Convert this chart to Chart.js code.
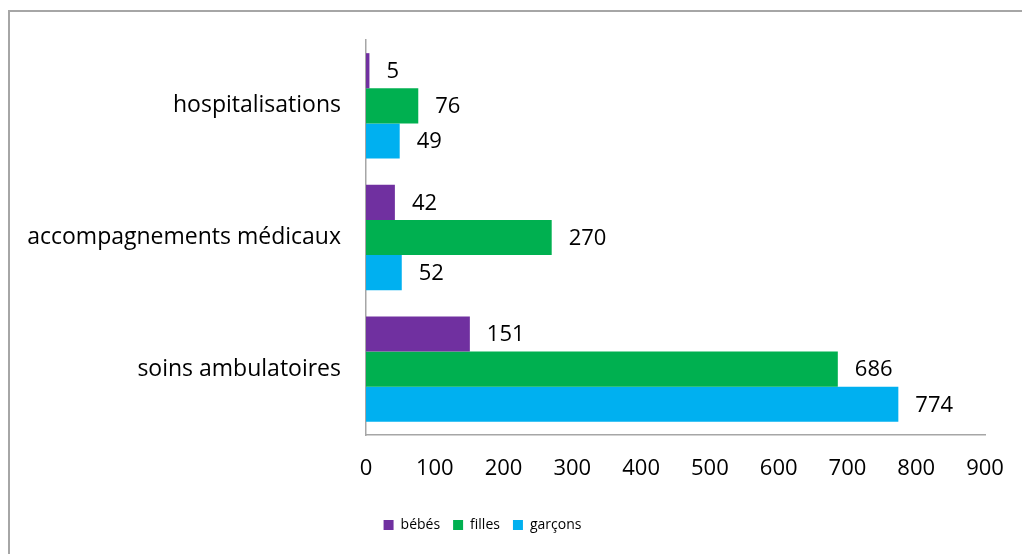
<!DOCTYPE html>
<html>
<head>
<meta charset="utf-8">
<script src="https://cdn.jsdelivr.net/npm/chart.js@4.4.1/dist/chart.umd.min.js"></script>
<style>
  html, body { margin: 0; padding: 0; background: #ffffff; }
  #wrap { position: relative; width: 1022px; height: 554px; }
</style>
</head>
<body>
<div id="wrap"><canvas id="c" width="1022" height="554"></canvas></div>
<script>
const categories = ['hospitalisations', 'accompagnements médicaux', 'soins ambulatoires'];
const seriesNames = ['bébés', 'filles', 'garçons'];
const bebes = [5, 42, 151];
const filles = [76, 270, 686];
const garcons = [49, 52, 774];
const xTicks = [0, 100, 200, 300, 400, 500, 600, 700, 800, 900];
const colors = ['#7030A0', '#00B050', '#00B0F0'];

const FONT = '"Open Sans", "Noto Sans", sans-serif';
const NUM_SIZE = 22;
const CAT_SIZE = 23;

const frame = {
  id: 'frame',
  beforeDraw(chart) {
    const ctx = chart.ctx;
    ctx.save();
    ctx.fillStyle = '#ffffff';
    ctx.fillRect(0, 0, chart.width, chart.height);
    ctx.fillStyle = '#a6a6a6';
    ctx.fillRect(8, 10, chart.width, 2);
    ctx.fillRect(8, 10, 2, chart.height);
    ctx.restore();
  }
};

const valueLabels = {
  id: 'valueLabels',
  afterDatasetsDraw(chart) {
    const ctx = chart.ctx;
    ctx.save();
    ctx.font = NUM_SIZE + 'px ' + FONT;
    ctx.fillStyle = '#000000';
    ctx.textAlign = 'left';
    ctx.textBaseline = 'middle';
    chart.data.datasets.forEach((ds, i) => {
      const meta = chart.getDatasetMeta(i);
      meta.data.forEach((el, j) => {
        ctx.fillText(String(ds.data[j]), el.x + 17, el.y + 1);
      });
    });
    ctx.restore();
  }
};

const SHIFT = 15;
const legendShift = {
  id: 'legendShift',
  afterLayout(chart) {
    if (chart.legend) {
      chart.legend.left -= SHIFT;
      chart.legend.right -= SHIFT;
      if (chart.legend.legendHitBoxes) {
        chart.legend.legendHitBoxes.forEach(b => { b.left -= SHIFT; });
      }
    }
  }
};

new Chart(document.getElementById('c'), {
  type: 'bar',
  data: {
    labels: categories,
    datasets: [
      { label: seriesNames[0], data: bebes, backgroundColor: colors[0] },
      { label: seriesNames[1], data: filles, backgroundColor: colors[1] },
      { label: seriesNames[2], data: garcons, backgroundColor: colors[2] }
    ]
  },
  options: {
    indexAxis: 'y',
    responsive: false,
    animation: false,
    devicePixelRatio: 1,
    categoryPercentage: 0.8,
    barPercentage: 1.0,
    layout: { padding: { left: 10, top: 40, right: 37, bottom: 12 } },
    scales: {
      x: {
        min: 0,
        max: 900,
        afterBuildTicks(scale) { scale.ticks = xTicks.map(v => ({ value: v })); },
        grid: { display: false, drawTicks: false },
        border: { display: true, color: '#a6a6a6', width: 1.5 },
        ticks: {
          color: '#000000',
          font: { family: FONT, size: NUM_SIZE },
          padding: 21,
          maxRotation: 0
        },
        afterFit(scale) {
          scale.height = 70;
          scale.paddingRight = 0;
          scale.paddingLeft = 0;
        }
      },
      y: {
        grid: { display: false, drawTicks: false },
        border: { display: true, color: '#a6a6a6', width: 1.5 },
        ticks: {
          color: '#000000',
          font: { family: FONT, size: CAT_SIZE },
          padding: 25
        },
        afterFit(scale) { scale.width = 356; }
      }
    },
    plugins: {
      legend: {
        position: 'bottom',
        labels: {
          boxWidth: 10,
          boxHeight: 10,
          padding: 13,
          color: '#000000',
          font: { family: FONT, size: 14 }
        }
      },
      tooltip: { enabled: false }
    }
  },
  plugins: [frame, valueLabels, legendShift]
});
</script>
</body>
</html>
